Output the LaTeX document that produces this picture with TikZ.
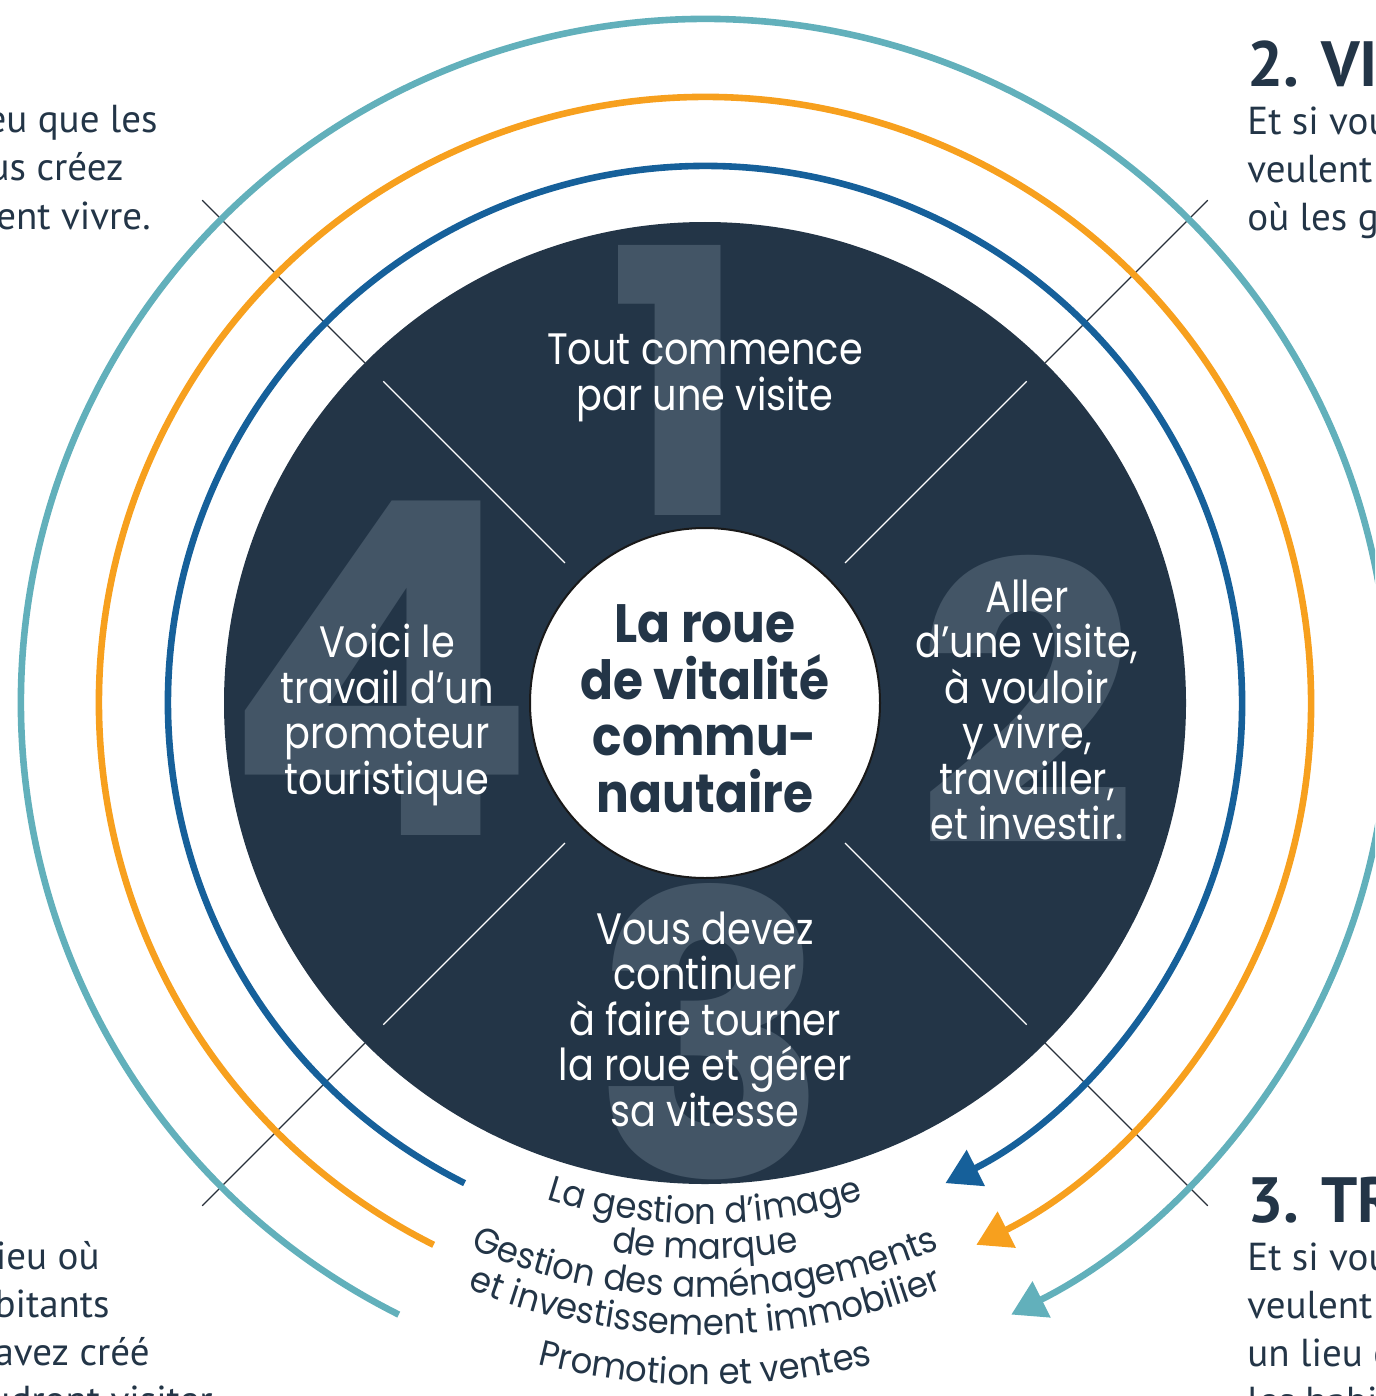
\documentclass[tikz,border=0pt]{standalone}
\usepackage{fontspec}
\setmainfont{Poppins}
\newfontfamily\wheelfont{Poppins}[FakeStretch=0.87]
\newfontfamily\titlefont{Poppins}[FakeStretch=0.9]
\newfontfamily\arcfont{Poppins}[FakeStretch=0.94]
\newfontfamily\sidefont{PT Sans}
\usetikzlibrary{arrows.meta,decorations.text}
\definecolor{navy}{RGB}{35,53,71}
\definecolor{digitgray}{RGB}{67,85,102}
\definecolor{ringblue}{RGB}{22,96,154}
\definecolor{ringorange}{RGB}{247,160,30}
\definecolor{ringteal}{RGB}{98,176,187}
\definecolor{crossline}{RGB}{40,48,58}

\begin{document}
\begin{tikzpicture}[x=0.5pt,y=0.5pt,yscale=-1,xscale=1,
  ring/.style={line width=3.3pt,-{Triangle[length=17pt,width=19.5pt]}},
  spoke/.style={line width=0.6pt},
  wheeltext/.style={text=white,align=center,inner sep=0pt,font=\wheelfont\fontsize{22}{22.75}\selectfont},
  bigdigit/.style={text=digitgray,inner sep=0pt,font=\bfseries},
  sidetext/.style={text=navy,inner sep=0pt,font=\sidefont\fontsize{19.5}{24}\selectfont},
  sidehead/.style={text=navy,inner sep=0pt,font=\sidefont\bfseries\fontsize{32}{32}\selectfont},
  arctext/.style={decorate,decoration={text along path,text align=center,text color=navy,text={#1}}}]
\useasboundingbox (0,0) rectangle (1375,1396);
\clip (0,0) rectangle (1375,1396);
\coordinate (c) at (705,703);

%Straight Lines: spokes outside the wheel
\foreach \a in {45,135,225,315}
  \draw [spoke,color=crossline] (c) ++(\a:481) -- ++(\a:230);

%Arcs with arrows
\draw [ring,color=ringteal] (c) ++(116.6:684) arc[start angle=116.6,end angle=423.4,radius=684];
\draw [ring,color=ringorange] (c) ++(116.6:606) arc[start angle=116.6,end angle=423.4,radius=606];
\draw [ring,color=ringblue] (c) ++(116.6:537) arc[start angle=116.6,end angle=423.4,radius=537];

%Shape: Circle (wheel)
\fill [navy] (c) circle[radius=481];
\begin{scope}
\clip (c) circle[radius=481];
\node [bigdigit] (one) at (678,380) {\resizebox{!}{135pt}{1}};
\node [bigdigit] (two) at (1027,700) {\resizebox{!}{145pt}{2}};
\node [bigdigit] (three) at (712,1032) {\resizebox{!}{147pt}{3}};
\node [bigdigit] (four) at (380,668) {\resizebox{!}{167pt}{4}};
\end{scope}

%Straight Lines: spokes inside the wheel
\foreach \a in {45,135,225,315}
  \draw [spoke,white] (c) ++(\a:198) -- ++(\a:257);

%Shape: Circle (hub)
\draw [fill=white,draw=black!90,line width=1pt] (c) circle[radius=175];

% Text Node
\node [text=navy,align=center,inner sep=0pt,font=\titlefont\bfseries\fontsize{27}{28.25}\selectfont] (title) at (705,709) {La roue\\de vitalité\\commu-\\nautaire};
% Text Node
\node [wheeltext] (visite) at (705,378) {Tout commence\\par une visite};
% Text Node
\node [wheeltext] (vivre) at (1027,710) {Aller\\d’une visite,\\à vouloir\\y vivre,\\travailler,\\et investir.};
% Text Node
\node [wheeltext] (vitesse) at (705,1019) {Vous devez\\continuer\\à faire tourner\\la roue et gérer\\sa vitesse};
% Text Node
\node [wheeltext] (promoteur) at (387,715) {Voici le\\travail d’un\\promoteur\\touristique};

%Curved Text
\path [arctext={|\arcfont\fontsize{18}{18}\selectfont|La gestion d’image}] (c) ++(130:521) arc[start angle=130,end angle=50,radius=521];
\path [arctext={|\arcfont\fontsize{18}{18}\selectfont|de marque}] (c) ++(130:556) arc[start angle=130,end angle=50,radius=556];
\path [arctext={|\arcfont\fontsize{18}{18}\selectfont|Gestion des aménagements}] (c) ++(130:594) arc[start angle=130,end angle=50,radius=594];
\path [arctext={|\arcfont\fontsize{18}{18}\selectfont|et investissement immobilier}] (c) ++(130:632) arc[start angle=130,end angle=50,radius=632];
\path [arctext={|\arcfont\fontsize{18}{18}\selectfont|Promotion et ventes}] (c) ++(130:682) arc[start angle=130,end angle=50,radius=682];

% Text Node: left side
\node [sidetext,anchor=base east] (tl1) at (158,133) {eu que les};
\node [sidetext,anchor=base east] (tl2) at (124,181) {us créez};
\node [sidetext,anchor=base east] (tl3) at (151,229) {ent vivre.};
\node [sidetext,anchor=base east] (bl1) at (100,1269) {ieu où};
\node [sidetext,anchor=base east] (bl2) at (110,1317) {bitants};
\node [sidetext,anchor=base east] (bl3) at (150,1365) {avez créé};
\node [sidetext,anchor=base east] (bl4) at (213,1413) {udront visiter};
% Text Node: right side
\node [sidehead,anchor=base west] (vihead) at (1247,87) {2. VI};
\node [sidetext,anchor=base west] (tr1) at (1247,135) {Et si vou};
\node [sidetext,anchor=base west] (tr2) at (1247,183) {veulent};
\node [sidetext,anchor=base west] (tr3) at (1247,231) {où les g};
\node [sidehead,anchor=base west] (trhead) at (1247,1222) {3. TR};
\node [sidetext,anchor=base west] (br1) at (1247,1270) {Et si vou};
\node [sidetext,anchor=base west] (br2) at (1247,1318) {veulent};
\node [sidetext,anchor=base west] (br3) at (1247,1366) {un lieu c};
\node [sidetext,anchor=base west] (br4) at (1247,1414) {les habi};
\end{tikzpicture}
\end{document}
